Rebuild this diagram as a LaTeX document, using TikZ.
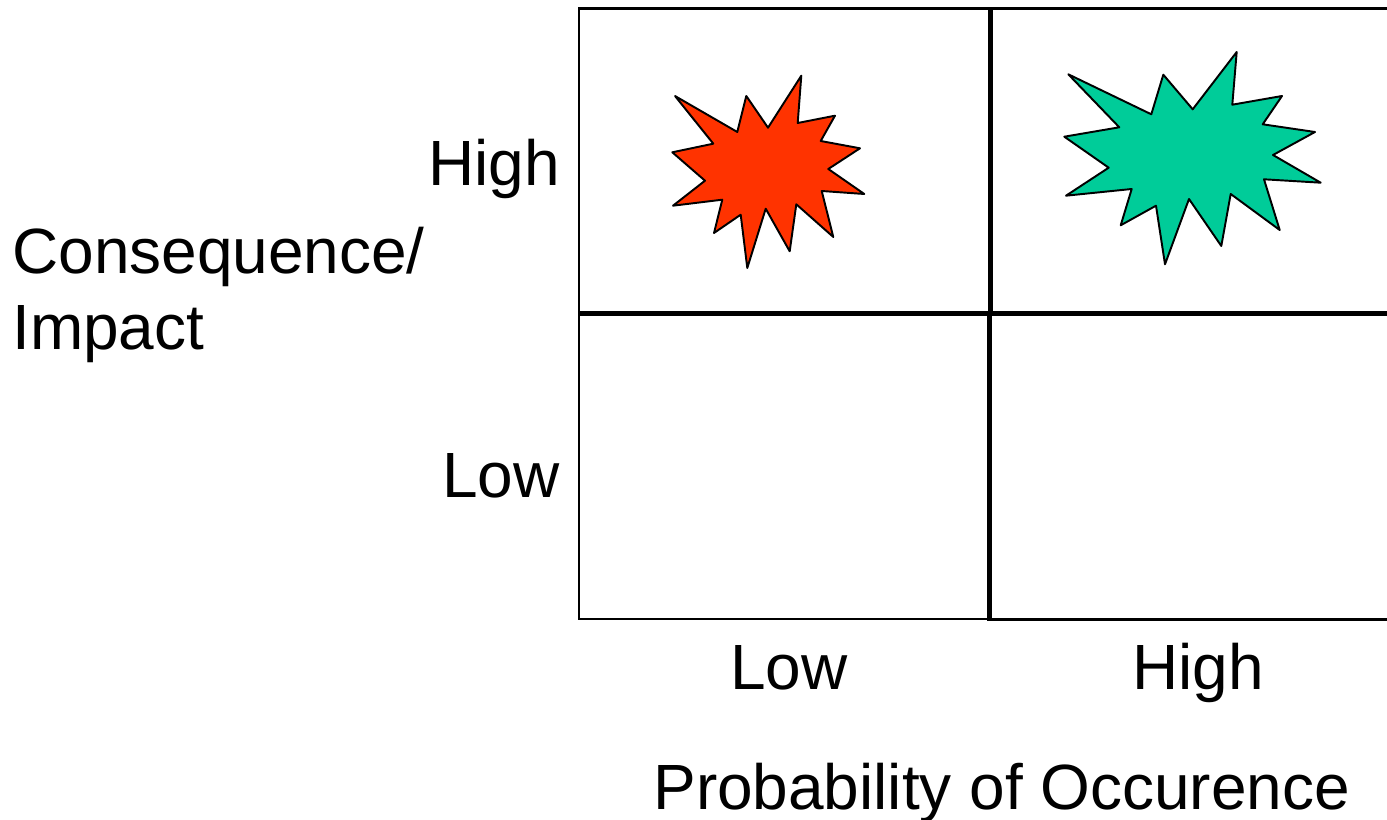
\documentclass[tikz,border=0pt]{standalone}
\usepackage{fontspec}
\setmainfont{Liberation Sans}
\definecolor{burstred}{HTML}{FF3300}
\definecolor{burstgreen}{HTML}{00CC99}
\tikzset{
    gridline/.style={line width=1.7pt},
    gridthick/.style={line width=2.8pt},
    burst/.style={draw=black, line width=1.1pt, line join=round},
    axislabel/.style={anchor=base west, inner sep=0pt, font=\fontsize{36.4}{40}\selectfont}
}

\begin{document}
\begin{tikzpicture}[x=0.02cm,y=-0.02cm]

\useasboundingbox (0,0) rectangle (1387,820);

% Outer frame
\draw[gridline] (1387,8.5) -- (579,8.5) -- (579,619) -- (989,619);
\draw[gridline] (989,619.5) -- (1387,619.5);

% Cross
\draw[gridthick] (579,313.5) -- (1387,313.5);
\draw[gridthick] (990.5,8) -- (990.5,313.5);
\draw[gridthick] (989.5,313.5) -- (989.5,621);

% Bursts
\draw[burst, fill=burstred] (675,96) -- (737.3,132) -- (746.3,96) -- (768,127.7) -- (801.3,75.7)
    -- (797.7,123) -- (835,115.7) -- (820.7,141) -- (860,148.3) -- (828.3,169) -- (864.3,194)
    -- (821.7,191) -- (833.3,237) -- (796.3,204.3) -- (789.7,251.3) -- (765.7,208.7) -- (747.3,268)
    -- (740.7,214.7) -- (714,233) -- (722.3,199.7) -- (673,205.7) -- (705,180.7) -- (672.3,152.3)
    -- (713.3,143.7) -- cycle;
\draw[burst, fill=burstgreen] (1068.3,74.3) -- (1151.3,114.3) -- (1163.3,74.7) -- (1192.7,109.3) -- (1236.7,52)
    -- (1232.3,104.7) -- (1282,96) -- (1262.7,124.3) -- (1315,132) -- (1273,155) -- (1320.7,182.7)
    -- (1264,179.3) -- (1279.7,230) -- (1230.7,194) -- (1221.3,246) -- (1189,199) -- (1165,264.3)
    -- (1156,205.7) -- (1120.7,225.3) -- (1131.7,189) -- (1066,195.7) -- (1108.7,167.7) -- (1064.3,136.7)
    -- (1119.3,127.3) -- cycle;

% Vertical axis labels
\node[axislabel] (conseq) at (12,274) {Consequence/};
\node[axislabel] (impact) at (12,350) {Impact};
\node[axislabel] (yhigh) at (428,186) {High};
\node[axislabel] (ylow) at (442,498) {Low};

% Horizontal axis labels
\node[axislabel] (xlow) at (730,690) {Low};
\node[axislabel] (xhigh) at (1132,690) {High};
\node[axislabel] (prob) at (653,809) {Probability of Occurence};

\end{tikzpicture}
\end{document}
